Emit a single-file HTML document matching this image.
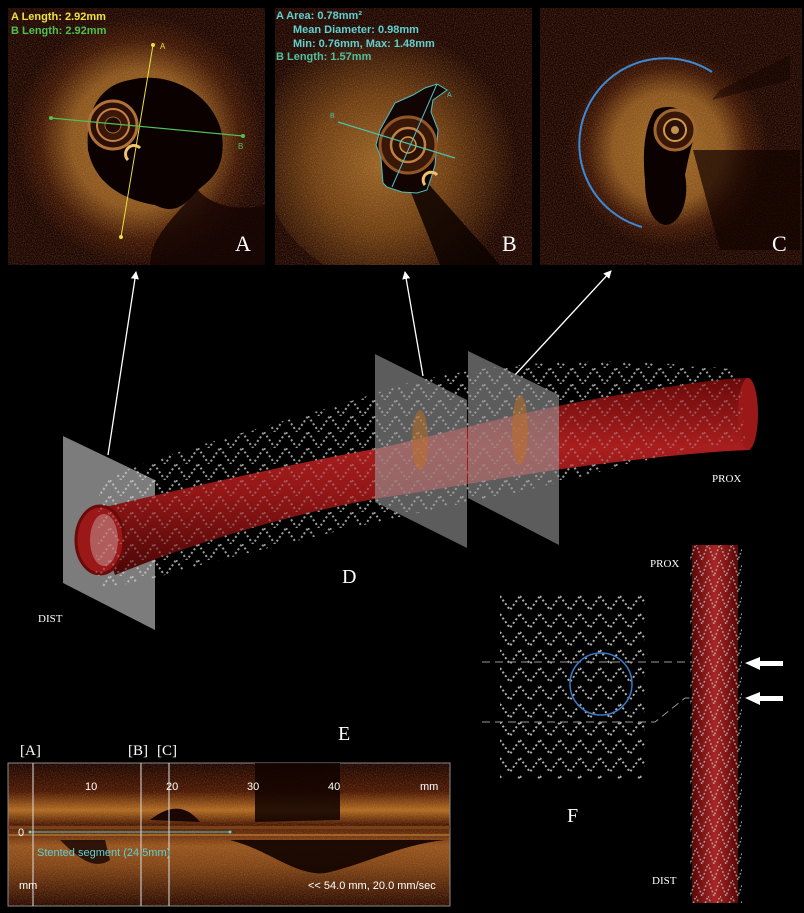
<!DOCTYPE html>
<html><head><meta charset="utf-8"><style>
html,body{margin:0;padding:0;background:#000;}
svg{display:block;}
text{font-family:"Liberation Sans",sans-serif;}
.serif{font-family:"Liberation Serif",serif;}
</style></head><body>
<svg width="804" height="913" viewBox="0 0 804 913" xmlns="http://www.w3.org/2000/svg">
<defs>
<filter id="noise" x="0" y="0" width="100%" height="100%">
<feTurbulence type="fractalNoise" baseFrequency="0.9" numOctaves="2" seed="3"/>
<feColorMatrix values="0 0 0 0 0.9  0 0 0 0 0.6  0 0 0 0 0.2  0 0 0 1.4 -0.55"/>
<feComposite in2="SourceGraphic" operator="in"/>
</filter>
<clipPath id="ca"><rect x="8" y="8" width="257" height="257"/></clipPath>
<clipPath id="cb"><rect x="275" y="8" width="257" height="257"/></clipPath>
<clipPath id="cc"><rect x="540" y="8" width="262" height="257"/></clipPath>
<radialGradient id="ga" cx="0.5" cy="0.5" r="0.5">
<stop offset="0" stop-color="#a06a28"/><stop offset="0.55" stop-color="#8a5520"/><stop offset="0.8" stop-color="#3e1607"/><stop offset="1" stop-color="#1e0603"/>
</radialGradient>
<radialGradient id="gb" cx="0.45" cy="0.55" r="0.5">
<stop offset="0" stop-color="#9a6428"/><stop offset="0.5" stop-color="#6e3e14"/><stop offset="1" stop-color="#1e0603"/>
</radialGradient>
<linearGradient id="tube" x1="0" y1="0" x2="0" y2="1">
<stop offset="0" stop-color="#6a0a0a"/><stop offset="0.35" stop-color="#a81e1e"/><stop offset="0.6" stop-color="#901616"/><stop offset="1" stop-color="#4a0606"/>
</linearGradient>
<linearGradient id="vtube" x1="0" y1="0" x2="1" y2="0">
<stop offset="0" stop-color="#5a0808"/><stop offset="0.5" stop-color="#a82626"/><stop offset="1" stop-color="#5a0808"/>
</linearGradient>
<linearGradient id="mm" x1="0" y1="0" x2="0" y2="1">
<stop offset="0" stop-color="#1e0603"/><stop offset="0.2" stop-color="#4a1806"/><stop offset="0.33" stop-color="#b06a24"/><stop offset="0.43" stop-color="#4a1a06"/><stop offset="0.5" stop-color="#6a3010"/><stop offset="0.58" stop-color="#965420"/><stop offset="0.72" stop-color="#804418"/><stop offset="1" stop-color="#2a0a03"/>
</linearGradient>
<pattern id="stent" width="22" height="16" patternUnits="userSpaceOnUse">
<polyline points="0,0 11,16 22,0" fill="none" stroke="#d0d0d0" stroke-width="2" stroke-dasharray="2 2.5"/>
</pattern>
<pattern id="stent2" width="20" height="18" patternUnits="userSpaceOnUse">
<polyline points="0,2 10,16 20,2" fill="none" stroke="#cfcfcf" stroke-width="2" stroke-dasharray="2 2.5"/>
</pattern>
<pattern id="stent3" width="12" height="16" patternUnits="userSpaceOnUse">
<polyline points="0,0 6,16 12,0" fill="none" stroke="#cfcfcf" stroke-width="1.5" stroke-dasharray="1.8 2"/>
</pattern>
<marker id="ah" markerWidth="8" markerHeight="8" refX="7" refY="4" orient="auto" markerUnits="userSpaceOnUse"><path d="M0,0 L8,4 L0,8 z" fill="#fff"/></marker>
</defs>

<!-- Panel A -->
<g clip-path="url(#ca)">
<rect x="8" y="8" width="257" height="257" fill="#1e0603"/>
<circle cx="140" cy="140" r="125" fill="url(#ga)"/>
<rect x="8" y="8" width="257" height="257" fill="#fff" filter="url(#noise)" opacity="0.35"/>
<path d="M130,80 C170,70 215,95 222,135 C226,170 210,180 198,190 C185,205 175,215 155,205 C125,200 95,185 88,150 C85,110 100,85 130,80 Z" fill="#0a0100"/>
<path d="M198,190 C215,210 250,210 265,205 L265,265 L150,265 C150,240 170,220 198,190Z" fill="#140402" opacity="0.8"/>
</g>
<circle cx="113" cy="125" r="24" fill="#2a1005" stroke="#b07038" stroke-width="3"/>
<circle cx="113" cy="125" r="16" fill="#3a1808" stroke="#c88048" stroke-width="2"/>
<circle cx="113" cy="125" r="8" fill="#200a03" stroke="#a06030" stroke-width="1"/>
<path d="M128,160 a8,8 0 0 1 12,-12" fill="none" stroke="#f0c070" stroke-width="3"/>
<line x1="153" y1="45" x2="121" y2="237" stroke="#e8e040" stroke-width="1"/>
<circle cx="153" cy="45" r="2" fill="#e8e040"/><circle cx="121" cy="237" r="2" fill="#e8e040"/>
<text x="160" y="49" font-size="8" fill="#e8e040">A</text>
<line x1="51" y1="118" x2="243" y2="136" stroke="#50c050" stroke-width="1.2"/>
<circle cx="51" cy="118" r="2" fill="#50c050"/><circle cx="243" cy="136" r="2" fill="#50c050"/>
<text x="238" y="149" font-size="8" fill="#50c050">B</text>
<text x="11" y="20" font-size="11" font-weight="bold" fill="#f0e040">A Length: 2.92mm</text>
<text x="11" y="34" font-size="11" font-weight="bold" fill="#50c050">B Length: 2.92mm</text>
<text x="235" y="251" font-size="22" fill="#fff" class="serif">A</text>

<!-- Panel B -->
<g clip-path="url(#cb)">
<rect x="275" y="8" width="257" height="257" fill="#1e0603"/>
<ellipse cx="395" cy="150" rx="135" ry="135" fill="url(#gb)"/>
<rect x="275" y="8" width="257" height="257" fill="#fff" filter="url(#noise)" opacity="0.35"/>
<path d="M425,180 L500,265 L440,265 L410,190Z" fill="#0c0200" opacity="0.85"/>
</g>
<path d="M437,84 L447,90 L433,100 L431,112 L438,130 L435,165 L433,172 L427,190 L417,193 L402,192 L387,187 L383,183 L381,158 L376,145 L380,130 L395,103 L413,95 L425,88 Z" fill="#120402" stroke="#50c0c0" stroke-width="1"/>
<circle cx="408" cy="145" r="28" fill="#3a1808" stroke="#905628" stroke-width="3"/>
<circle cx="408" cy="145" r="17" fill="#2a1005" stroke="#c08040" stroke-width="2.5"/>
<circle cx="408" cy="145" r="8" fill="#4a2008" stroke="#d09848" stroke-width="1.5"/>
<path d="M425,185 a7,7 0 0 1 12,-10" fill="none" stroke="#f0c070" stroke-width="3"/>
<line x1="437" y1="84" x2="392" y2="187" stroke="#50c0c0" stroke-width="1"/>
<line x1="338" y1="122" x2="455" y2="158" stroke="#50c0b0" stroke-width="1.2"/>
<text x="330" y="118" font-size="7" fill="#50c0b0">B</text><text x="447" y="97" font-size="7" fill="#50c0c0">A</text>
<text x="276" y="19" font-size="11" font-weight="bold" fill="#60d0d0">A Area: 0.78mm²</text>
<text x="293" y="33" font-size="11" font-weight="bold" fill="#60d0d0">Mean Diameter:  0.98mm</text>
<text x="293" y="47" font-size="11" font-weight="bold" fill="#60d0d0">Min:  0.76mm, Max:  1.48mm</text>
<text x="276" y="60" font-size="11" font-weight="bold" fill="#50c0a0">B Length: 1.57mm</text>
<text x="502" y="251" font-size="22" fill="#fff" class="serif">B</text>

<!-- Panel C -->
<g clip-path="url(#cc)">
<rect x="540" y="8" width="262" height="257" fill="#1e0603"/>
<circle cx="668" cy="148" r="100" fill="url(#ga)"/>
<rect x="540" y="8" width="262" height="257" fill="#fff" filter="url(#noise)" opacity="0.35"/>
<path d="M693,150 L800,150 L800,250 L720,250 Z" fill="#120300" opacity="0.7"/>
<path d="M720,90 L790,55 L790,80 L712,100Z" fill="#120300" opacity="0.5"/>
</g>
<path d="M655,110 C675,100 695,115 695,135 C690,150 688,160 685,175 C690,200 680,225 665,225 C650,222 645,200 645,180 C642,150 645,125 655,110Z" fill="#0a0100"/>
<circle cx="675" cy="130" r="20" fill="#3a1808" stroke="#a06632" stroke-width="3"/>
<circle cx="675" cy="130" r="11" fill="#2a1005" stroke="#d09848" stroke-width="2"/>
<circle cx="675" cy="130" r="4" fill="#c09050"/>
<path d="M712,72 A86,86 0 1 0 642,227" fill="none" stroke="#3a8ad8" stroke-width="2"/>
<text x="772" y="251" font-size="22" fill="#fff" class="serif">C</text>

<!-- arrows -->
<line x1="108" y1="455" x2="136" y2="272" stroke="#fff" stroke-width="1.3" marker-end="url(#ah)"/>
<line x1="423" y1="376" x2="405" y2="272" stroke="#fff" stroke-width="1.3" marker-end="url(#ah)"/>
<line x1="515" y1="375" x2="611" y2="271" stroke="#fff" stroke-width="1.3" marker-end="url(#ah)"/>

<!-- Panel D -->
<polygon points="63,436 155,480 155,630 63,583" fill="#8a8a8a" opacity="0.9"/>
<path d="M100,480 C200,440 300,420 400,385 C500,360 600,355 740,370 L745,440 C650,455 560,485 480,500 C380,520 300,540 200,565 C150,580 110,590 95,585 Z" fill="url(#stent)" opacity="0.6"/>
<path d="M92,510 C200,485 300,462 380,448 C450,432 520,412 600,398 C680,385 720,378 748,378 L750,450 C700,452 650,458 600,464 C520,474 450,488 380,498 C300,512 200,540 115,575 Z" fill="url(#tube)"/>
<ellipse cx="100" cy="540" rx="24" ry="34" fill="#9a1818" stroke="#6a0a0a" stroke-width="3"/>
<ellipse cx="104" cy="540" rx="14" ry="26" fill="#c8a0a0" opacity="0.5"/>
<ellipse cx="748" cy="414" rx="10" ry="36" fill="#9a1818"/>
<path d="M100,480 C200,440 300,420 400,385 C500,360 600,355 740,370 L745,440 C650,455 560,485 480,500 C380,520 300,540 200,565 C150,580 110,590 95,585 Z" fill="url(#stent)" opacity="0.35"/>
<polygon points="375,354 467,400 467,548 375,502" fill="#9a9a9a" opacity="0.6"/>
<polygon points="468,351 559,395 559,545 468,498" fill="#9a9a9a" opacity="0.6"/>
<ellipse cx="420" cy="440" rx="8" ry="30" fill="#c07020" opacity="0.5"/>
<ellipse cx="520" cy="430" rx="8" ry="35" fill="#c07020" opacity="0.5"/>
<text x="38" y="622" font-size="11" fill="#fff" class="serif">DIST</text>
<text x="712" y="482" font-size="11" fill="#fff" class="serif">PROX</text>
<text x="342" y="583" font-size="20" fill="#fff" class="serif">D</text>
<text x="338" y="740" font-size="20" fill="#fff" class="serif">E</text>

<!-- Panel F -->
<rect x="500" y="593" width="145" height="186" fill="url(#stent2)" opacity="0.85"/>
<line x1="482" y1="662" x2="710" y2="662" stroke="#999" stroke-width="1" stroke-dasharray="8 5"/>
<polyline points="482,722 655,722 685,698 710,698" fill="none" stroke="#999" stroke-width="1" stroke-dasharray="8 5"/>
<circle cx="601" cy="684" r="31" fill="none" stroke="#3a7ac8" stroke-width="1.5"/>
<rect x="692" y="545" width="46" height="358" fill="url(#vtube)"/>
<rect x="690" y="545" width="52" height="358" fill="url(#stent3)" opacity="0.7"/>
<polygon points="745,663 760,657 760,661 783,661 783,666 760,666 760,670" fill="#fff"/>
<polygon points="745,698 760,692 760,696 783,696 783,701 760,701 760,705" fill="#fff"/>
<text x="650" y="567" font-size="11" fill="#fff" class="serif">PROX</text>
<text x="652" y="884" font-size="11" fill="#fff" class="serif">DIST</text>
<text x="567" y="822" font-size="20" fill="#fff" class="serif">F</text>

<!-- Panel E -->
<text x="20" y="755" font-size="15" fill="#fff" class="serif">[A]</text>
<text x="128" y="755" font-size="15" fill="#fff" class="serif">[B]</text>
<text x="157" y="755" font-size="15" fill="#fff" class="serif">[C]</text>
<rect x="8" y="763" width="442" height="143" fill="url(#mm)" stroke="#888" stroke-width="1"/>
<rect x="8" y="763" width="442" height="143" fill="#fff" filter="url(#noise)" opacity="0.3"/>
<path d="M255,763 L340,763 L340,820 L255,822Z" fill="#100200" opacity="0.85"/>
<path d="M150,820 C175,800 190,810 200,822Z" fill="#1a0602"/>
<path d="M230,840 C270,850 300,880 330,872 C370,862 400,845 445,840 L230,840Z" fill="#100200" opacity="0.9"/>
<path d="M60,840 C80,860 95,870 110,860 L105,840Z" fill="#140402" opacity="0.8"/>
<rect x="8" y="826" width="442" height="3" fill="#7a4018"/>
<rect x="8" y="834" width="442" height="2" fill="#a06428"/>
<line x1="30" y1="832" x2="230" y2="832" stroke="#50c0c0" stroke-width="1"/>
<circle cx="30" cy="832" r="1.5" fill="#60d0d0"/><circle cx="230" cy="832" r="1.5" fill="#60d0d0"/>
<line x1="33" y1="763" x2="33" y2="906" stroke="#ddd" stroke-width="1"/>
<line x1="141" y1="763" x2="141" y2="906" stroke="#ddd" stroke-width="1"/>
<line x1="169" y1="763" x2="169" y2="906" stroke="#ddd" stroke-width="1"/>
<text x="85" y="790" font-size="11" fill="#fff">10</text>
<text x="166" y="790" font-size="11" fill="#fff">20</text>
<text x="247" y="790" font-size="11" fill="#fff">30</text>
<text x="328" y="790" font-size="11" fill="#fff">40</text>
<text x="420" y="790" font-size="11" fill="#fff">mm</text>
<text x="18" y="836" font-size="11" fill="#fff">0</text>
<text x="37" y="856" font-size="11" fill="#60d0d0">Stented segment  (24.5mm)</text>
<text x="19" y="889" font-size="11" fill="#fff">mm</text>
<text x="308" y="889" font-size="11" fill="#fff">&lt;&lt; 54.0 mm, 20.0 mm/sec</text>
</svg>
</body></html>
